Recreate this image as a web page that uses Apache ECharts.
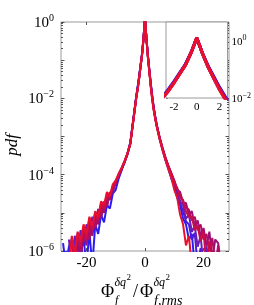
<!DOCTYPE html>
<html><head><meta charset="utf-8">
<script src="https://cdn.jsdelivr.net/npm/echarts@6/dist/echarts.min.js"></script>
<style>html,body{margin:0;padding:0;background:#fff}#c{width:254px;height:305px}</style>
</head><body><div id="c"></div>
<script>
// ---- data ----
const xValues = [-28,-27,-26,-25,-24,-23,-22,-21,-20,-19,-18,-17,-16,-15,-14,-13,-12,-11,-10,-9,-8,-7,-6,-5,-4,
  -3.5,-3,-2.5,-2,-1.5,-1,-0.5,-0.25,0,0.25,0.5,1,1.5,2,2.5,3,3.5,
  4,5,6,7,8,9,10,11,12,13,14,15,16,17,18,19,20,21,22,23,24,25,26,27,28];

const pdfBlue = [1.6e-6,4e-7,1.3e-6,2e-6,4e-7,1.8e-6,8e-7,2.2e-6,4e-7,3.2e-6,4e-7,5e-6,2.8e-6,8.9e-6,5.6e-6,1.6e-5,1.3e-5,3.2e-5,4e-5,7.9e-5,1.3e-4,2.1e-4,3.5e-4,7.1e-4,2.8e-3,
  5.6e-3,0.0112,0.02,0.038,0.076,0.151,0.39,0.69,1.2,0.68,0.37,0.132,0.056,0.024,0.0112,0.0056,0.0032,
  0.002,8.9e-4,4.5e-4,2.4e-4,1.4e-4,7.9e-5,5e-5,2.5e-5,1.6e-5,7e-6,5e-6,2e-6,2.8e-6,4e-7,null,null,null,null,null,null,null,null,null,null,null];

const pdfViolet = [null,1e-6,4e-7,2.2e-6,1e-6,3e-6,4e-7,4e-6,2e-6,6e-6,3e-6,9e-6,5.5e-6,1.5e-5,1.1e-5,2.6e-5,2.3e-5,4.8e-5,5.8e-5,9.5e-5,1.35e-4,2.15e-4,3.5e-4,7e-4,2.75e-3,
  5.5e-3,0.011,0.0195,0.037,0.074,0.148,0.385,0.69,1.22,0.68,0.365,0.129,0.054,0.023,0.0108,0.0055,0.0032,
  0.002,9e-4,4.6e-4,2.5e-4,1.5e-4,9e-5,5.2e-5,3.2e-5,1.8e-5,1.1e-5,6e-6,5e-6,2e-6,3e-6,4e-7,1.2e-6,null,null,null,null,null,null,null,null,null];

const pdfPurple = [null,null,2e-6,4e-7,2.5e-6,1e-6,3.5e-6,1.6e-6,5e-6,2.2e-6,7.9e-6,4e-6,1.26e-5,7e-6,2e-5,1.4e-5,3.5e-5,3.2e-5,7.1e-5,8.9e-5,1.4e-4,2.1e-4,3.5e-4,6.8e-4,2.7e-3,
  5.4e-3,0.0107,0.019,0.0355,0.072,0.145,0.38,0.69,1.23,0.68,0.36,0.126,0.052,0.022,0.0105,0.0054,0.0032,
  0.002,8.9e-4,4.8e-4,2.6e-4,1.6e-4,1e-4,5.6e-5,4e-5,2e-5,1.6e-5,7e-6,8.9e-6,3.2e-6,4.5e-6,1.3e-6,2.5e-6,4e-7,1.3e-6,4e-7,null,null,null,null,null,null];

const pdfMaroon = [null,null,null,null,4e-7,2e-6,6e-7,2.8e-6,1.4e-6,4.5e-6,2.5e-6,7.9e-6,5e-6,1.4e-5,1e-5,2.5e-5,2.2e-5,4.5e-5,5.6e-5,1e-4,1.45e-4,2.2e-4,3.5e-4,6.6e-4,2.6e-3,
  5.2e-3,0.0105,0.018,0.0347,0.071,0.141,0.38,0.69,1.26,0.68,0.36,0.123,0.05,0.021,0.01,0.0052,0.0032,
  0.002,9.5e-4,5e-4,2.8e-4,1.7e-4,1.1e-4,7.1e-5,4e-5,3.5e-5,1.8e-5,1.8e-5,8.9e-6,1.1e-5,4.5e-6,6.3e-6,2.5e-6,4e-6,1.3e-6,3.2e-6,6e-7,2e-6,1.6e-6,4e-7,null,null];

const pdfRose = [null,null,null,null,null,4e-7,1.5e-6,2.2e-6,3e-6,2e-6,5.5e-6,4e-6,1.1e-5,8e-6,1.9e-5,1.5e-5,3.3e-5,3.8e-5,6.6e-5,1.02e-4,1.45e-4,2.2e-4,3.5e-4,6.6e-4,2.6e-3,
  5.15e-3,0.0103,0.018,0.0345,0.07,0.141,0.375,0.685,1.26,0.68,0.358,0.121,0.049,0.0205,0.0097,0.0051,0.0031,
  0.0019,9.3e-4,4.9e-4,2.75e-4,1.68e-4,1.08e-4,6.8e-5,4.2e-5,3e-5,2e-5,1.4e-5,1.2e-5,6.3e-6,7.9e-6,3.5e-6,5e-6,2e-6,2.8e-6,1e-6,2.2e-6,4e-7,1.4e-6,4e-7,null,null];

const pdfCrimson = [null,null,null,1.8e-6,4e-7,2.5e-6,1.3e-6,4e-6,2e-6,6.3e-6,3.5e-6,1e-5,6.3e-6,1.8e-5,1.26e-5,3.2e-5,2.5e-5,5e-5,6.3e-5,1e-4,1.4e-4,2.1e-4,3.4e-4,6.5e-4,2.6e-3,
  5.1e-3,0.0102,0.0178,0.034,0.069,0.141,0.37,0.68,1.26,0.68,0.355,0.12,0.049,0.02,0.0093,0.005,0.003,
  0.0019,9.1e-4,4.8e-4,2.7e-4,1.66e-4,1.05e-4,6.3e-5,4.5e-5,2.5e-5,2.2e-5,1.1e-5,7.9e-6,7.9e-6,3.5e-6,4.5e-6,1.8e-6,3.2e-6,4e-7,1.8e-6,4e-7,null,null,null,null,null];

const pdfRed = [null,null,4e-7,2.5e-6,8e-7,3.2e-6,1.8e-6,5e-6,2.8e-6,7.9e-6,4.5e-6,1.1e-5,7.9e-6,2e-5,1.6e-5,3.5e-5,2.8e-5,5.6e-5,7.1e-5,1.07e-4,1.5e-4,2.3e-4,3.7e-4,6.6e-4,2.5e-3,
  5e-3,0.01,0.017,0.033,0.068,0.138,0.37,0.68,1.26,0.68,0.355,0.117,0.047,0.019,0.0087,0.0047,0.0028,
  0.0018,8.3e-4,4.3e-4,2.4e-4,1.4e-4,8.3e-5,4e-5,2.5e-5,8.9e-6,5e-6,1.4e-6,2.5e-6,4e-7,null,null,null,null,null,null,null,null,null,null,null,null];

const seriesData = [pdfBlue, pdfViolet, pdfPurple, pdfMaroon, pdfRose, pdfCrimson, pdfRed];
const seriesNames = ['case 1','case 2','case 3','case 4','case 5','case 6','case 7'];
const seriesColors = ['#2c1cf2','#4b1bd8','#6a1bb8','#9a0f78','#b00c60','#c80d48','#e8102e'];

const mainXTicks = [-20, 0, 20];
const mainYLabelTicks = [1e-6, 1e-4, 1e-2, 1];
const mainYDecades = [1e-6, 1e-5, 1e-4, 1e-3, 1e-2, 1e-1, 1];
const minorMultipliers = [2,3,4,5,6,7,8,9];
const insetXTicks = [-2, 0, 2];
const insetYLabelTicks = [1e-2, 1];
const insetYDecades = [1e-2, 1e-1, 1];

// ---- helpers ----
const serif = '"Liberation Serif", "Times New Roman", serif';
function minorOf(decades){ const out=[]; decades.slice(0,-1).forEach(d=>minorMultipliers.forEach(m=>out.push(m*d))); return out; }
const mainYMinor = minorOf(mainYDecades);
const insetYMinor = minorOf(insetYDecades).concat([2,3,4]);
function powLabel(v){ const e=Math.round(Math.log10(v)); return '{b|10}{e|'+(e<0?'\u2212'+(-e):e)+'}'; }
function rich(big, small){ return {
  b:{fontFamily:serif,fontSize:big,color:'#000',lineHeight:big+2,verticalAlign:'bottom'},
  e:{fontFamily:serif,fontSize:small,color:'#000',lineHeight:small,verticalAlign:'top',padding:[0,0,Math.round(small*0.75),0]}
};}
const tickCol = '#555';

function logY(gridIndex, position, min, max, opts){
  return Object.assign({type:'log', logBase:10, gridIndex, position, min, max,
    axisLine:{show:false,onZero:false}, splitLine:{show:false}, minorTick:{show:false}, axisLabel:{show:false}}, opts);
}
function valX(gridIndex, position, min, max, opts){
  return Object.assign({type:'value', gridIndex, position, min, max,
    axisLine:{show:false,onZero:false}, splitLine:{show:false}, axisLabel:{show:false}}, opts);
}

const xAxes = [
  valX(0,'bottom',-28.7,28.7,{
    axisTick:{inside:true,length:3,customValues:mainXTicks,lineStyle:{color:tickCol}},
    axisLabel:{show:true,customValues:mainXTicks,fontFamily:serif,fontSize:15,color:'#000',margin:5,
      formatter:v=>String(v)}}),
  valX(0,'top',-28.7,28.7,{axisTick:{inside:true,length:3,customValues:mainXTicks,lineStyle:{color:tickCol}}}),
  valX(1,'bottom',-2.7,2.7,{
    axisTick:{inside:true,length:2,customValues:insetXTicks,lineStyle:{color:tickCol}},
    axisLabel:{show:true,customValues:insetXTicks,fontFamily:serif,fontSize:11,color:'#000',margin:4,
      formatter:v=>String(v)}}),
  valX(1,'top',-2.7,2.7,{axisTick:{show:false}})
];
const yAxes = [
  logY(0,'left',1e-6,1,{axisTick:{inside:true,length:3.5,customValues:mainYDecades,lineStyle:{color:tickCol}},
    axisLabel:{show:true,customValues:mainYLabelTicks,margin:7,formatter:powLabel,rich:rich(15,10)}}),
  logY(0,'left',1e-6,1,{axisTick:{inside:true,length:2,customValues:mainYMinor,lineStyle:{color:tickCol}}}),
  logY(0,'right',1e-6,1,{axisTick:{inside:true,length:3.5,customValues:mainYDecades,lineStyle:{color:tickCol}}}),
  logY(0,'right',1e-6,1,{axisTick:{inside:true,length:2,customValues:mainYMinor,lineStyle:{color:tickCol}}}),
  logY(1,'right',0.01,4.5,{axisTick:{inside:true,length:2.5,customValues:insetYDecades,lineStyle:{color:tickCol}},
    axisLabel:{show:true,customValues:insetYLabelTicks,margin:4,formatter:powLabel,rich:rich(11,8)}}),
  logY(1,'left',0.01,4.5,{axisTick:{inside:true,length:1.8,customValues:insetYMinor.concat(insetYDecades),lineStyle:{color:tickCol}}})
];

const series = [];
seriesData.forEach((arr,i)=>{
  const pts = [];
  arr.forEach((v,j)=>{ if(v!==null) pts.push([xValues[j], v]); });
  series.push({name:seriesNames[i], type:'line', xAxisIndex:0, yAxisIndex:0, data:pts, symbol:'none',
    clip:true, silent:true, lineStyle:{color:seriesColors[i], width:2}, z:3});
  series.push({name:seriesNames[i]+' inset', type:'line', xAxisIndex:2, yAxisIndex:4, data:pts, symbol:'none',
    clip:true, silent:true, lineStyle:{color:seriesColors[i], width:3}, z:5});
});

const it = {fontFamily:serif, fontStyle:'italic', fill:'#000'};
const up = {fontFamily:serif, fill:'#000'};
const graphic = [
  {type:'text', x:13, y:145, rotation:Math.PI/2, style:Object.assign({text:'pdf', fontSize:17, align:'center', verticalAlign:'middle'}, it)},
  {type:'group', x:101, y:292, children:[
    {type:'text', x:0, y:0, style:Object.assign({text:'\u03A6', fontSize:18, verticalAlign:'middle'}, up)},
    {type:'text', x:13.5, y:-9, style:Object.assign({text:'\u03B4q', fontSize:12, verticalAlign:'middle'}, it)},
    {type:'text', x:25.5, y:-14, style:Object.assign({text:'2', fontSize:9, verticalAlign:'middle'}, up)},
    {type:'text', x:14, y:9, style:Object.assign({text:'f', fontSize:12, verticalAlign:'middle'}, it)},
    {type:'text', x:32, y:0, style:Object.assign({text:'/', fontSize:18, verticalAlign:'middle'}, up)},
    {type:'text', x:39, y:0, style:Object.assign({text:'\u03A6', fontSize:18, verticalAlign:'middle'}, up)},
    {type:'text', x:52.5, y:-9, style:Object.assign({text:'\u03B4q', fontSize:12, verticalAlign:'middle'}, it)},
    {type:'text', x:64.5, y:-14, style:Object.assign({text:'2', fontSize:9, verticalAlign:'middle'}, up)},
    {type:'text', x:53, y:9, style:Object.assign({text:'f,rms', fontSize:14, verticalAlign:'middle'}, it)}
  ]}
];

const chart = echarts.init(document.getElementById('c'), null, {renderer:'canvas'});
chart.setOption({
  animation:false,
  backgroundColor:'#fff',
  grid:[
    {left:61, top:22, width:168, height:229, show:true, borderColor:'#9a9a9a', borderWidth:1, backgroundColor:'transparent'},
    {left:166, top:22, width:63, height:76, show:true, backgroundColor:'#fff', borderColor:'#9a9a9a', borderWidth:1, z:4}
  ],
  xAxis:xAxes, yAxis:yAxes, series, graphic
});
</script>
</body></html>
